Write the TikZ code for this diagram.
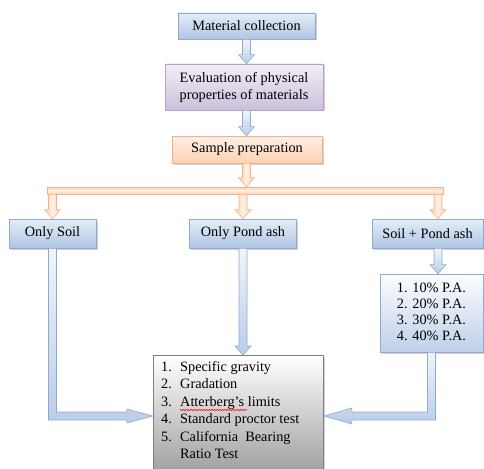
\documentclass[tikz,border=0pt]{standalone}
\usepackage{fontspec}
\setmainfont{Liberation Serif}
\usetikzlibrary{calc,shadows,decorations.pathmorphing}
\definecolor{bluT}{HTML}{E6EEF7}
\definecolor{bluB}{HTML}{AEC4E3}
\definecolor{bluD}{HTML}{8EAAD3}
\definecolor{purT}{HTML}{F2EEF6}
\definecolor{purB}{HTML}{CCC0DB}
\definecolor{purD}{HTML}{B3A2C8}
\definecolor{orT}{HTML}{FEF0E6}
\definecolor{orB}{HTML}{FBD2B0}
\definecolor{orD}{HTML}{F3B386}
\definecolor{grD}{HTML}{7F7F7F}
\definecolor{grB}{HTML}{9A9A9A}
% vertical block arrow: #1 start, #2 tip, #3 style
\newcommand\blkdown[3]{%
  \path[#3] let \p1=(#1), \p2=(#2) in
    (\x1-4pt,\y1) -- (\x1+4pt,\y1) -- (\x1+4pt,\y2+9pt) -- (\x1+8pt,\y2+9pt)
    -- (\x1,\y2) -- (\x1-8pt,\y2+9pt) -- (\x1-4pt,\y2+9pt) -- cycle;}
% L-shaped block arrow, down then right
\newcommand\blkLright[3]{%
  \path[#3] let \p1=(#1), \p2=(#2) in
    (\x1-4pt,\y1) -- (\x1+4pt,\y1) -- (\x1+4pt,\y2+4pt) -- (\x2-26pt,\y2+4pt)
    -- (\x2-26pt,\y2+7pt) -- (\x2,\y2) -- (\x2-26pt,\y2-7pt) -- (\x2-26pt,\y2-4pt)
    -- (\x1-4pt,\y2-4pt) -- cycle;}
% L-shaped block arrow, down then left
\newcommand\blkLleft[3]{%
  \path[#3] let \p1=(#1), \p2=(#2) in
    (\x1+4pt,\y1) -- (\x1-4pt,\y1) -- (\x1-4pt,\y2+4pt) -- (\x2+28pt,\y2+4pt)
    -- (\x2+28pt,\y2+8pt) -- (\x2,\y2) -- (\x2+28pt,\y2-8pt) -- (\x2+28pt,\y2-4pt)
    -- (\x1+4pt,\y2-4pt) -- cycle;}
\begin{document}
\begin{tikzpicture}[x=1pt,y=-1pt,font=\fontsize{14.3}{17}\selectfont,
  shad/.style={drop shadow={shadow xshift=1.5pt,shadow yshift=-1.5pt,opacity=0.3,fill=black!60}},
  bluebox/.style={draw=bluD,line width=0.7pt,top color=bluT,bottom color=bluB,shad,inner sep=0pt},
  purbox/.style={draw=purD,line width=0.7pt,top color=purT,bottom color=purB,shad,inner sep=0pt},
  orbox/.style={draw=orD,line width=0.7pt,top color=orT,bottom color=orB,shad,inner sep=0pt},
  orbar/.style={draw=orD,line width=0.6pt,top color=orB,bottom color=orB,middle color=orT,inner sep=0pt},
  pabox/.style={draw=bluD,line width=0.7pt,top color=white!90!bluT,bottom color=bluB!80,shad,inner sep=0pt},
  resbox/.style={draw=grD,line width=0.8pt,top color=white,bottom color=grB,shad,inner sep=0pt},
  blarrow/.style={draw=bluD,line width=0.6pt,top color=bluT!60,bottom color=bluB!85},
  orarrow/.style={draw=orD,line width=0.6pt,left color=orB,right color=orB,middle color=orT},
]
\useasboundingbox (0,0) rectangle (484,468);

\node[bluebox,minimum width=137pt,minimum height=26pt] (mc) at (246.5,26) {Material collection};
\node[purbox,minimum width=158pt,minimum height=46pt,align=center] (ev) at (244,87)
  {Evaluation of physical\\properties of materials};
\node[orbox,minimum width=150pt,minimum height=27pt] (sp) at (247,149.5) {Sample preparation};
\node[orbar,minimum width=396pt,minimum height=7pt] (bar) at (245,190.5) {};
\node[bluebox,minimum width=87pt,minimum height=29pt] (os) at (52.5,233.5) {Only Soil};
\node[bluebox,minimum width=107pt,minimum height=29pt] (opa) at (243,233.5) {Only Pond ash};
\node[bluebox,minimum width=111pt,minimum height=29pt] (spa) at (427.5,233.5) {Soil + Pond ash};
\node[pabox,minimum width=103pt,minimum height=78pt,font=\fontsize{14.3}{16}\selectfont] (pa) at (431.5,313)
  {\begin{tabular}{@{}l@{}}1. 10\% P.A.\\2. 20\% P.A.\\3. 30\% P.A.\\4. 40\% P.A.\end{tabular}};
\node[resbox,minimum width=170pt,minimum height=124pt,anchor=north west] (res) at (153,355) {};
\node[anchor=north west,inner sep=0pt,font=\fontsize{14.3}{17.5}\selectfont] (restext) at (161,359)
  {\begin{tabular}{@{}p{19pt}@{}l@{}}
   1. & Specific gravity\\
   2. & Gradation\\
   3. & Atterberg’s limits\\
   4. & Standard proctor test\\
   5. & California\ \ Bearing\\
      & Ratio Test
   \end{tabular}};
\draw[red,line width=0.5pt,decorate,decoration={snake,amplitude=0.7pt,segment length=2.6pt}]
  (180,410) -- (247,410);

\coordinate (rcol) at (438,0);
\coordinate (lrow) at (0,416);

% connectors
\blkdown{mc.south}{ev.north}{blarrow}
\blkdown{ev.south -| mc.south}{sp.north -| mc.south}{blarrow}
\blkdown{sp.south -| mc.south}{bar.north -| mc.south}{orarrow}
\blkdown{bar.south -| os.north}{os.north}{orarrow}
\blkdown{bar.south -| opa.north}{opa.north}{orarrow}
\blkdown{bar.south -| rcol}{spa.north -| rcol}{orarrow}
\blkdown{spa.south -| rcol}{pa.north -| rcol}{blarrow}
\blkdown{opa.south}{res.north -| opa.south}{blarrow}
\blkLright{os.south}{res.west |- lrow}{blarrow}
\blkLleft{pa.south}{res.east |- lrow}{blarrow}
\end{tikzpicture}
\end{document}
